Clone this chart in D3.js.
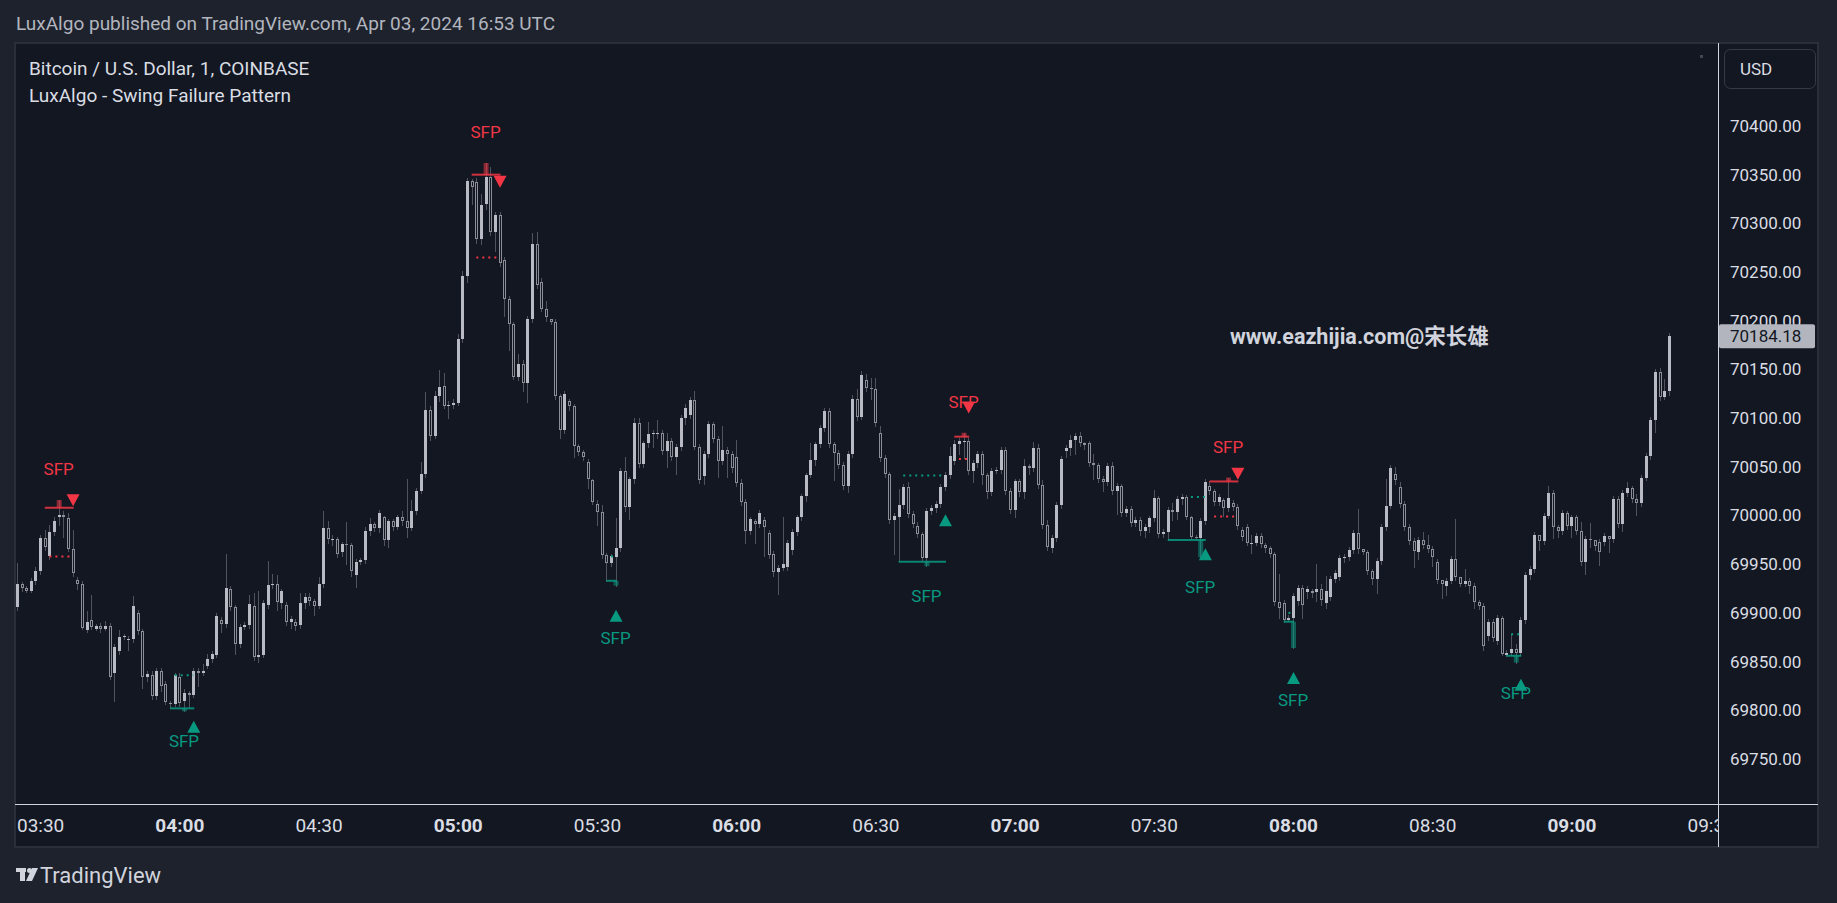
<!DOCTYPE html>
<html>
<head>
<meta charset="utf-8">
<title>Bitcoin / U.S. Dollar, 1 - LuxAlgo Swing Failure Pattern</title>
<script src="https://d3js.org/d3.v7.min.js"></script>
<style>
  body { margin: 0; background: #1e222d; overflow: hidden; }
  svg { display: block; font-family: Roboto, "Noto Sans", "Noto Sans CJK SC", sans-serif; }
</style>
</head>
<body>
<svg id="chart"></svg>
<script>
// first 1-minute bar of the series (UTC)
const firstBar = "03:25";

// [open, high, low, close] one row per minute
const ohlc = [
  // 03:25
  [69906,69951,69903,69930],[69930,69932,69923,69926],[69926,69928,69921,69923],[69923,69936,69921,69933],[69933,69947,69930,69943],
  [69943,69980,69940,69977],[69977,69985,69965,69968],[69958,69990,69955,69983],[69983,69998,69980,69994],[69998,70016,69990,70001],
  [70001,70005,69978,69998],[69997,70003,69964,69966],[69966,69985,69938,69941],[69934,69937,69925,69930],[69930,69933,69883,69885],
  [69882,69902,69880,69891],[69893,69918,69884,69886],[69884,69889,69882,69887],[69887,69890,69880,69883],[69884,69892,69882,69887],
  [69887,69890,69832,69834],[69838,69868,69810,69865],[69861,69882,69858,69875],[69875,69878,69873,69876],[69873,69876,69862,69873],
  [69873,69917,69870,69907],[69900,69903,69878,69881],[69881,69883,69823,69834],[69834,69840,69830,69837],[69836,69840,69812,69815],
  [69815,69843,69812,69840],[69840,69843,69820,69825],[69827,69830,69806,69809],[69808,69810,69802,69807],[69806,69838,69804,69836],
  // 04:00
  [69834,69838,69804,69808],[69810,69822,69799,69818],[69818,69820,69803,69816],[69816,69843,69814,69840],[69840,69843,69825,69838],
  [69838,69848,69836,69840],[69846,69858,69843,69853],[69853,69861,69850,69858],[69857,69900,69855,69897],[69893,69896,69880,69889],
  [69889,69960,69886,69926],[69925,69928,69903,69906],[69906,69908,69858,69868],[69868,69889,69865,69886],[69886,69891,69883,69888],
  [69888,69918,69885,69909],[69907,69920,69852,69855],[69855,69922,69850,69857],[69857,69913,69855,69910],[69908,69953,69905,69929],
  [69929,69940,69926,69930],[69930,69939,69903,69911],[69910,69925,69905,69922],[69908,69911,69888,69891],[69891,69897,69885,69894],
  [69891,69894,69882,69887],[69888,69920,69885,69910],[69910,69920,69905,69916],[69916,69920,69908,69912],[69912,69914,69898,69907],
  [69907,69937,69905,69930],[69930,70005,69927,69987],[69987,69994,69972,69976],[69976,69980,69970,69976],[69976,69978,69957,69960],
  [69963,69973,69958,69971],[69971,69993,69950,69970],[69970,69972,69938,69943],[69939,69955,69927,69952],[69952,69956,69950,69954],
  [69954,69988,69951,69984],[69984,69997,69980,69991],[69991,69993,69984,69987],[69987,70006,69983,70003],[69998,70000,69970,69975],
  [69975,69996,69968,69994],[69994,69996,69985,69988],[69988,70001,69986,69998],[69998,70005,69990,69994],[69994,70038,69978,69987],
  [69987,70016,69985,70005],[70005,70028,70002,70025],[70025,70055,70023,70043],[70043,70127,70040,70108],[70108,70112,70078,70082],
  [70082,70128,70080,70123],[70123,70149,70118,70132],[70133,70146,70110,70112],[70112,70118,70100,70113],[70113,70120,70110,70116],
  // 05:00
  [70116,70186,70114,70181],[70181,70251,70178,70246],[70246,70347,70240,70344],[70344,70346,70320,70337],[70342,70347,70280,70284],
  [70284,70330,70279,70319],[70320,70362,70315,70348],[70348,70358,70288,70291],[70291,70312,70272,70309],[70309,70312,70256,70259],
  [70262,70265,70205,70222],[70222,70225,70170,70197],[70197,70199,70140,70142],[70142,70166,70139,70156],[70156,70160,70128,70136],
  [70136,70205,70117,70202],[70202,70290,70199,70279],[70279,70291,70234,70237],[70240,70244,70210,70212],[70212,70220,70200,70204],
  [70202,70202,70197,70199],[70199,70202,70120,70123],[70123,70125,70080,70088],[70088,70128,70085,70125],[70118,70120,70108,70112],
  [70112,70115,70060,70071],[70071,70073,70062,70065],[70065,70067,70057,70060],[70055,70058,70028,70038],[70036,70038,70012,70014],
  [70012,70016,69990,70004],[70004,70011,69956,69959],[69959,69962,69933,69951],[69951,69960,69948,69958],[69957,69997,69928,69967],
  [69967,70049,69964,70046],[70046,70060,70005,70009],[70009,70040,69996,70037],[70037,70100,70033,70095],[70095,70100,70050,70053],
  [70053,70077,70050,70074],[70074,70096,70070,70084],[70084,70088,70070,70085],[70085,70098,70080,70085],[70085,70088,70063,70066],
  [70066,70085,70050,70077],[70077,70080,70057,70060],[70060,70073,70043,70070],[70070,70103,70067,70100],[70100,70115,70094,70110],
  [70103,70122,70100,70119],[70119,70128,70068,70070],[70070,70073,70033,70036],[70041,70066,70032,70063],[70063,70097,70060,70094],
  [70094,70096,70076,70079],[70079,70082,70040,70056],[70056,70092,70053,70067],[70067,70070,70040,70063],[70063,70066,70045,70049],
  // 06:00
  [70060,70078,70030,70033],[70033,70037,70011,70014],[70014,70017,69972,69984],[69984,69999,69981,69996],[69994,69996,69972,69991],
  [69991,70006,69988,70003],[69995,69998,69958,69988],[69982,69985,69956,69959],[69961,69964,69938,69942],[69942,69949,69919,69946],
  [69946,69999,69944,69950],[69947,69975,69944,69972],[69965,69986,69960,69983],[69983,70001,69980,69998],[69998,70022,69995,70020],
  [70020,70044,70015,70042],[70042,70074,70040,70057],[70057,70076,70052,70073],[70073,70093,70070,70090],[70090,70110,70087,70107],
  [70107,70110,70070,70073],[70073,70076,70036,70064],[70064,70067,70049,70052],[70052,70055,70027,70030],[70030,70066,70024,70063],
  [70063,70124,70060,70120],[70120,70130,70098,70101],[70101,70148,70099,70144],[70139,70145,70128,70131],[70131,70141,70120,70130],
  [70130,70141,70092,70095],[70085,70092,70056,70059],[70059,70062,70040,70043],[70043,70045,69992,69995],[69995,70003,69961,70000],
  [69998,70027,69953,70011],[70011,70032,70008,70029],[70029,70034,69999,70002],[70002,70005,69988,69991],[69989,69993,69978,69981],
  [69981,69983,69954,69956],[69956,70008,69948,70005],[70005,70011,70002,70008],[70008,70015,70004,70012],[70012,70032,70009,70029],
  [70029,70045,70026,70042],[70042,70070,70039,70061],[70056,70078,70053,70073],[70073,70080,70063,70077],[70077,70085,70059,70077],
  [70077,70080,70043,70046],[70046,70057,70034,70054],[70054,70066,70050,70063],[70063,70066,70032,70042],[70042,70044,70018,70024],
  [70024,70049,70021,70046],[70046,70050,70044,70047],[70047,70070,70044,70067],[70067,70070,70022,70025],[70025,70028,70003,70006],
  // 07:00
  [70006,70038,69999,70035],[70035,70038,70020,70024],[70024,70058,70018,70051],[70051,70053,70043,70049],[70049,70075,70046,70069],
  [70069,70073,70028,70031],[70031,70036,69987,69990],[69990,69995,69965,69968],[69967,69980,69963,69977],[69977,70014,69974,70011],
  [70011,70061,70008,70058],[70066,70072,70060,70069],[70069,70083,70062,70078],[70078,70085,70063,70082],[70082,70086,70071,70074],
  [70074,70076,70068,70072],[70074,70077,70051,70054],[70054,70063,70038,70052],[70052,70054,70034,70037],[70037,70041,70025,70034],
  [70034,70054,70031,70051],[70051,70055,70022,70025],[70025,70033,70002,70030],[70030,70032,70000,70003],[70003,70010,70000,70007],
  [70007,70010,69989,69992],[69992,69998,69989,69995],[69995,69998,69980,69984],[69984,69991,69978,69988],[69988,70000,69983,69997],
  [69997,70026,69994,70018],[70018,70020,69978,69981],[69981,69986,69978,69983],[69983,70009,69975,70006],[70006,70013,69995,70004],
  [70004,70020,69996,70017],[70017,70022,70012,70019],[70019,70021,69996,69998],[69998,70000,69977,69978],[69978,69980,69976,69977],
  [69977,69997,69957,69994],[69994,70037,69991,70034],[70030,70035,70022,70025],[70025,70027,70011,70014],[70014,70022,70011,70019],
  [70016,70018,70000,70008],[70008,70039,70005,70018],[70013,70016,70006,70009],[70009,70012,69986,69989],[69985,69988,69975,69978],
  [69988,69991,69970,69972],[69972,69980,69962,69972],[69972,69982,69970,69979],[69979,69982,69968,69971],[69970,69972,69963,69967],
  [69967,69969,69957,69960],[69960,69963,69908,69911],[69911,69940,69895,69905],[69910,69913,69891,69893],[69893,69898,69892,69895],
  // 08:00
  [69895,69920,69864,69917],[69912,69929,69908,69926],[69926,69929,69895,69908],[69921,69928,69915,69925],[69922,69925,69916,69920],
  [69921,69950,69912,69925],[69925,69930,69908,69913],[69910,69938,69905,69923],[69916,69938,69913,69935],[69935,69944,69932,69941],
  [69937,69959,69934,69956],[69956,69960,69952,69957],[69957,69968,69954,69965],[69965,69985,69962,69982],[69982,70007,69962,69966],
  [69966,69966,69960,69963],[69963,69965,69940,69943],[69943,69945,69930,69935],[69935,69956,69920,69953],[69953,69991,69950,69988],
  [69988,70037,69985,70010],[70010,70052,70008,70049],[70043,70050,70032,70036],[70029,70034,70009,70012],[70012,70015,69985,69988],
  [69988,69991,69971,69974],[69974,69977,69947,69964],[69963,69978,69955,69975],[69975,69983,69967,69970],[69970,69980,69963,69966],
  [69966,69969,69948,69957],[69952,69955,69931,69934],[69934,69934,69915,69930],[69928,69936,69918,69933],[69933,69958,69931,69955],
  [69955,69996,69934,69937],[69937,69937,69928,69930],[69930,69945,69928,69933],[69933,69936,69920,69928],[69928,69931,69905,69911],
  [69911,69913,69904,69907],[69907,69910,69862,69866],[69876,69894,69872,69891],[69891,69894,69871,69874],[69871,69898,69868,69895],
  [69895,69897,69857,69858],[69857,69862,69856,69859],[69859,69878,69857,69863],[69863,69868,69849,69859],[69859,69896,69857,69893],
  [69893,69942,69890,69939],[69939,69948,69935,69945],[69945,69983,69942,69980],[69980,69980,69965,69974],[69974,70003,69971,70000],
  [70000,70030,69997,70023],[70023,70026,69977,69988],[69988,69990,69978,69984],[69984,70006,69981,70003],[70003,70005,69986,69989],
  // 09:00
  [69989,70001,69978,69998],[69998,70001,69981,69984],[69984,69993,69949,69952],[69952,69979,69940,69976],[69976,69992,69968,69975],
  [69975,69975,69965,69969],[69973,69976,69949,69963],[69973,69982,69970,69979],[69979,69979,69963,69976],[69976,70020,69973,70017],
  [70017,70020,69988,69991],[69991,70026,69984,70023],[70023,70034,70020,70028],[70028,70030,70014,70017],[70017,70022,70001,70013],
  [70013,70042,70010,70039],[70039,70064,70036,70061],[70061,70101,70058,70098],[70098,70150,70086,70147],[70147,70151,70119,70122],
  [70122,70140,70120,70128],[70128,70187,70124,70184.18]
];

const priceTicks = [70400, 70350, 70300, 70250, 70200, 70150, 70100, 70050, 70000, 69950, 69900, 69850, 69800, 69750];
const timeTicks = ["03:30", "04:00", "04:30", "05:00", "05:30", "06:00", "06:30", "07:00", "07:30", "08:00", "08:30", "09:00", "09:30"];
const lastPrice = 70184.18;

// swing failure patterns: swing level line start, sweeping bar, confirmation bar
const bearSfp = [
  { start: "03:31", bar: "03:34", end: "03:37", dotStart: "03:32", level: 70008, dot: 69958 },
  { start: "05:03", bar: "05:06", end: "05:09", dotStart: "05:04", level: 70350, dot: 70265 },
  { start: "06:47", bar: "06:49", end: "06:50", dotStart: "06:48", level: 70081, dot: 70058 },
  { start: "07:42", bar: "07:46", end: "07:48", dotStart: "07:43", level: 70035, dot: 69999 }
];
const bullSfp = [
  { start: "03:58", bar: "04:01", end: "04:03", dotStart: "03:59", level: 69802, dot: 69836 },
  { start: "05:32", bar: "05:34", end: "05:34", dotStart: "05:33", level: 69933, dot: 69958 },
  { start: "06:35", bar: "06:41", end: "06:45", dotStart: "06:36", level: 69952.5, dot: 70041 },
  { start: "07:33", bar: "07:40", end: "07:41", dotStart: "07:38", level: 69975, dot: 70019 },
  { start: "07:58", bar: "08:00", end: "08:00", dotStart: "07:59", level: 69891, dot: 69900 },
  { start: "08:46", bar: "08:48", end: "08:49", dotStart: "08:47", level: 69856, dot: 69878 }
];

const W = 1837, H = 903;
const pane = { left: 15, top: 43, right: 1818, bottom: 847 };
const plotRight = 1718, plotBottom = 804;
const bg = "#131722", red = "#f23645", green = "#089981";
const ink = "#dadde3";

const at = s => { const [h, m] = s.split(":").map(Number); return new Date(Date.UTC(2024, 3, 3, h, m)); };
const t0 = at(firstBar).getTime();
const bars = ohlc.map((r, i) => ({ t: new Date(t0 + i * 60000), o: r[0], h: r[1], l: r[2], c: r[3] }));
const barAt = s => bars.find(b => b.t.getTime() === at(s).getTime());

const svg = d3.select("#chart").attr("width", W).attr("height", H);
svg.append("rect").attr("width", W).attr("height", H).attr("fill", "#1e222d");

// header
svg.append("text").attr("x", 16).attr("y", 23).attr("dy", "0.35em")
  .attr("fill", "#b2b5be").style("font-size", "19px")
  .text("LuxAlgo published on TradingView.com, Apr 03, 2024 16:53 UTC");

// chart pane
svg.append("rect")
  .attr("x", pane.left).attr("y", pane.top)
  .attr("width", pane.right - pane.left).attr("height", pane.bottom - pane.top)
  .attr("fill", bg).attr("stroke", "#2a2e39").attr("stroke-width", 2);

const x = d3.scaleUtc()
  .domain([new Date(Date.UTC(2024, 3, 3, 3, 24, 35)), new Date(Date.UTC(2024, 3, 3, 9, 31, 35))])
  .range([pane.left, plotRight]);
const y = d3.scaleLinear().domain([69703.8, 70485.2]).range([plotBottom, pane.top]);

svg.append("clipPath").attr("id", "plot-clip").append("rect")
  .attr("x", pane.left).attr("y", pane.top)
  .attr("width", plotRight - pane.left).attr("height", plotBottom - pane.top);

const plot = svg.append("g").attr("clip-path", "url(#plot-clip)");

// candles
const cx = d => Math.round(x(d.t));
plot.append("g").selectAll("line").data(bars).join("line")
  .attr("x1", d => cx(d) + 0.5).attr("x2", d => cx(d) + 0.5)
  .attr("y1", d => Math.round(y(d.h))).attr("y2", d => Math.round(y(d.l)) + 1)
  .attr("stroke", "#50535e").attr("stroke-width", 1);

const bodyTop = d => Math.round(y(Math.max(d.o, d.c)));
const bodyBot = d => Math.round(y(Math.min(d.o, d.c)));
const bodies = plot.append("g");
bars.forEach(d => {
  const t = bodyTop(d), b = Math.max(bodyBot(d), t + 1);
  if (d.c >= d.o || b - t < 3) {
    bodies.append("rect").attr("x", cx(d) - 1).attr("y", t).attr("width", 3).attr("height", b - t)
      .attr("fill", d.c >= d.o ? "#b8bbc3" : "#8b8e97");
  } else {
    bodies.append("rect").attr("x", cx(d) - 0.5).attr("y", t + 0.5).attr("width", 2).attr("height", b - t - 1)
      .attr("fill", bg).attr("stroke", "#8b8e97").attr("stroke-width", 1);
  }
});

// SFP drawings
function drawSfp(list, color, bear) {
  const g = plot.append("g");
  list.forEach(s => {
    const sweep = barAt(s.bar), conf = barAt(s.end);
    const extreme = bear ? sweep.h : sweep.l;
    g.append("rect")
      .attr("x", x(sweep.t) - 2).attr("width", 5)
      .attr("y", Math.min(y(s.level), y(extreme)))
      .attr("height", Math.abs(y(s.level) - y(extreme)))
      .attr("fill", color).attr("opacity", 0.55);
    g.append("line")
      .attr("x1", x(at(s.start))).attr("x2", x(conf.t) + 1)
      .attr("y1", y(s.level)).attr("y2", y(s.level))
      .attr("stroke", color).attr("stroke-width", 2).attr("opacity", 0.85);
    g.append("line")
      .attr("x1", x(at(s.dotStart))).attr("x2", x(conf.t))
      .attr("y1", y(s.dot)).attr("y2", y(s.dot))
      .attr("stroke", color).attr("stroke-width", 2).attr("stroke-dasharray", "2,4");

    const tx = x(conf.t) + 0.5;
    const ty = bear ? y(conf.h) - 30 : y(conf.l) + 30;
    const k = bear ? 1 : -1;
    g.append("path")
      .attr("d", `M${tx - 6.5},${ty - 6 * k}L${tx + 6.5},${ty - 6 * k}L${tx},${ty + 6 * k}Z`)
      .attr("fill", color);

    const ly = s.bar === s.end ? ty - 22 * k : (bear ? y(extreme) - 31 : y(extreme) + 30);
    g.append("text")
      .attr("x", x(sweep.t)).attr("y", ly).attr("dy", "0.35em")
      .attr("text-anchor", "middle").attr("fill", color)
      .style("font-size", "17px").text("SFP");
  });
}
drawSfp(bearSfp, red, true);
drawSfp(bullSfp, green, false);

// legend
svg.append("text").attr("x", 29).attr("y", 68).attr("dy", "0.35em")
  .attr("fill", ink).style("font-size", "19px").text("Bitcoin / U.S. Dollar, 1, COINBASE");
svg.append("text").attr("x", 29).attr("y", 95).attr("dy", "0.35em")
  .attr("fill", ink).style("font-size", "19px").text("LuxAlgo - Swing Failure Pattern");

// watermark
svg.append("text").attr("x", 1230).attr("y", 336).attr("dy", "0.35em")
  .attr("fill", "#d1d4dc").style("font-size", "21.5px").style("font-weight", "bold")
  .text("www.eazhijia.com@宋长雄");

svg.append("rect").attr("x", 1700).attr("y", 55).attr("width", 3).attr("height", 3).attr("fill", "#434651");

// price axis
const yAxis = svg.append("g").attr("transform", `translate(${plotRight},0)`)
  .call(d3.axisRight(y).tickValues(priceTicks).tickFormat(d3.format(".2f")).tickSize(0).tickPadding(12));
yAxis.select(".domain").remove();
yAxis.selectAll("text").attr("fill", ink).style("font-size", "17px").style("font-family", "Roboto, sans-serif");

// time axis
svg.append("clipPath").attr("id", "time-clip").append("rect")
  .attr("x", pane.left).attr("y", plotBottom).attr("width", plotRight - pane.left).attr("height", pane.bottom - plotBottom);
const xAxis = svg.append("g").attr("clip-path", "url(#time-clip)")
  .append("g").attr("transform", `translate(0,${plotBottom})`)
  .call(d3.axisBottom(x).tickValues(timeTicks.map(at)).tickFormat(d3.utcFormat("%H:%M")).tickSize(0).tickPadding(15));
xAxis.select(".domain").remove();
xAxis.selectAll("text").attr("fill", ink).style("font-size", "19px").style("font-family", "Roboto, sans-serif")
  .style("font-weight", d => d.getUTCMinutes() === 0 ? "bold" : "normal");

// axis separators
svg.append("line").attr("x1", plotRight + 0.5).attr("x2", plotRight + 0.5)
  .attr("y1", pane.top).attr("y2", pane.bottom).attr("stroke", "#d1d4dc");
svg.append("line").attr("x1", pane.left).attr("x2", pane.right)
  .attr("y1", plotBottom + 0.5).attr("y2", plotBottom + 0.5).attr("stroke", "#d1d4dc");

// last price label
svg.append("rect").attr("x", plotRight + 1).attr("y", y(lastPrice) - 12)
  .attr("width", 96).attr("height", 24).attr("rx", 2).attr("fill", "#b2b5be");
svg.append("text").attr("x", plotRight + 12).attr("y", y(lastPrice)).attr("dy", "0.35em")
  .attr("fill", "#131722").style("font-size", "17px").text(d3.format(".2f")(lastPrice));

// currency button
svg.append("rect").attr("x", 1724.5).attr("y", 49.5).attr("width", 91).attr("height", 39).attr("rx", 6)
  .attr("fill", "none").attr("stroke", "#363a45");
svg.append("text").attr("x", 1740).attr("y", 69).attr("dy", "0.35em")
  .attr("fill", ink).style("font-size", "17px").text("USD");

// TradingView mark
const logo = svg.append("g").attr("fill", "#d1d4dc");
logo.append("rect").attr("x", 16).attr("y", 868).attr("width", 10).attr("height", 4);
logo.append("rect").attr("x", 20).attr("y", 868).attr("width", 5).attr("height", 13);
logo.append("circle").attr("cx", 29.5).attr("cy", 870.5).attr("r", 2.5);
logo.append("path").attr("d", "M32,868L38,868L32,881L26,881Z");
logo.append("text").attr("x", 40).attr("y", 875).attr("dy", "0.35em")
  .style("font-size", "22px").text("TradingView");
</script>
</body>
</html>
